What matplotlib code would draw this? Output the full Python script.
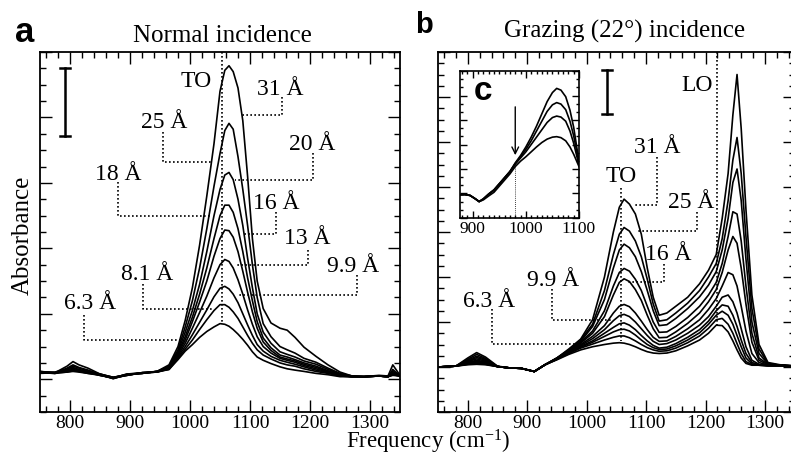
import matplotlib
matplotlib.use('Agg')
import matplotlib.pyplot as plt
from matplotlib.ticker import MultipleLocator

plt.rcParams['font.family'] = ['Liberation Serif', 'DejaVu Serif']
plt.rcParams['mathtext.fontset'] = 'custom'
plt.rcParams['mathtext.rm'] = 'Liberation Serif'
plt.rcParams['mathtext.it'] = 'Liberation Serif:italic'
plt.rcParams['mathtext.bf'] = 'Liberation Serif:bold'

# ---------------- data: panel a (normal incidence) ----------------
freq_a = [750, 775, 795, 805, 815, 830, 850, 872, 895, 920, 945, 965, 980, 992, 1004,
          1016, 1028, 1040, 1050, 1058, 1065, 1072, 1080, 1088, 1096, 1104, 1112, 1122,
          1135, 1150, 1162, 1175, 1190, 1210, 1230, 1250, 1270, 1290, 1315, 1330, 1338, 1350]
a_31 = [0.12, 0.10, 0.20, 0.27, 0.22, 0.17, 0.08, 0.02, 0.08, 0.10, 0.12, 0.22, 0.50, 0.90, 1.40,
        2.05, 2.80, 3.60, 4.40, 4.72, 4.79, 4.70, 4.45, 3.95, 3.10, 2.15, 1.50, 1.08,
        0.86, 0.78, 0.75, 0.64, 0.49, 0.35, 0.22, 0.11, 0.05, 0.04, 0.06, 0.05, 0.22, 0.06]
a_25 = [0.10, 0.09, 0.17, 0.22, 0.18, 0.14, 0.07, 0.01, 0.07, 0.09, 0.12, 0.20, 0.45, 0.80, 1.20,
        1.70, 2.30, 2.95, 3.45, 3.80, 3.91, 3.82, 3.40, 2.90, 2.35, 1.75, 1.25, 0.85,
        0.65, 0.50, 0.45, 0.40, 0.32, 0.26, 0.17, 0.09, 0.05, 0.04, 0.05, 0.04, 0.15, 0.05]
a_20 = [0.11, 0.10, 0.15, 0.20, 0.17, 0.13, 0.08, 0.03, 0.07, 0.10, 0.11, 0.19, 0.42, 0.72, 1.05,
        1.45, 1.95, 2.50, 2.90, 3.12, 3.16, 3.05, 2.75, 2.35, 1.85, 1.40, 1.00, 0.72,
        0.55, 0.42, 0.38, 0.34, 0.28, 0.23, 0.15, 0.08, 0.05, 0.04, 0.05, 0.04, 0.12, 0.05]
a_18 = [0.10, 0.11, 0.16, 0.18, 0.15, 0.12, 0.06, 0.02, 0.08, 0.09, 0.12, 0.18, 0.40, 0.65, 0.95,
        1.30, 1.70, 2.15, 2.50, 2.66, 2.66, 2.55, 2.30, 1.95, 1.55, 1.20, 0.88, 0.63,
        0.48, 0.37, 0.34, 0.30, 0.25, 0.20, 0.13, 0.07, 0.04, 0.04, 0.05, 0.04, 0.10, 0.05]
a_16 = [0.12, 0.09, 0.14, 0.17, 0.14, 0.11, 0.08, 0.03, 0.06, 0.10, 0.11, 0.17, 0.38, 0.60, 0.88,
        1.18, 1.50, 1.88, 2.15, 2.28, 2.27, 2.17, 1.95, 1.65, 1.33, 1.03, 0.78, 0.57,
        0.44, 0.34, 0.31, 0.28, 0.23, 0.18, 0.12, 0.06, 0.04, 0.04, 0.05, 0.04, 0.09, 0.05]
a_13 = [0.09, 0.10, 0.13, 0.15, 0.13, 0.10, 0.07, 0.01, 0.07, 0.09, 0.12, 0.16, 0.36, 0.55, 0.78,
        1.02, 1.27, 1.55, 1.75, 1.83, 1.80, 1.70, 1.52, 1.30, 1.06, 0.84, 0.65, 0.50,
        0.40, 0.32, 0.29, 0.26, 0.21, 0.16, 0.11, 0.06, 0.04, 0.04, 0.05, 0.04, 0.08, 0.05]
a_9_9 = [0.11, 0.10, 0.12, 0.14, 0.12, 0.10, 0.06, 0.02, 0.06, 0.10, 0.11, 0.16, 0.34, 0.50, 0.68,
         0.87, 1.06, 1.26, 1.39, 1.42, 1.38, 1.30, 1.17, 1.00, 0.83, 0.67, 0.53, 0.43,
         0.35, 0.29, 0.26, 0.23, 0.19, 0.14, 0.10, 0.05, 0.04, 0.04, 0.05, 0.04, 0.07, 0.05]
a_8_1 = [0.10, 0.09, 0.11, 0.13, 0.12, 0.09, 0.07, 0.03, 0.07, 0.09, 0.12, 0.15, 0.32, 0.46, 0.60,
         0.76, 0.91, 1.05, 1.14, 1.14, 1.10, 1.03, 0.93, 0.80, 0.67, 0.55, 0.45, 0.37,
         0.31, 0.25, 0.22, 0.20, 0.16, 0.12, 0.09, 0.05, 0.04, 0.04, 0.05, 0.04, 0.07, 0.05]
a_6_3 = [0.11, 0.10, 0.11, 0.12, 0.11, 0.09, 0.06, 0.02, 0.06, 0.10, 0.11, 0.15, 0.30, 0.43, 0.53,
         0.64, 0.73, 0.80, 0.85, 0.84, 0.81, 0.76, 0.69, 0.61, 0.52, 0.42, 0.34, 0.29,
         0.24, 0.19, 0.16, 0.14, 0.12, 0.09, 0.07, 0.04, 0.04, 0.04, 0.05, 0.04, 0.06, 0.05]
series_a = [a_31, a_25, a_20, a_18, a_16, a_13, a_9_9, a_8_1, a_6_3]

# ---------------- data: panel b (grazing incidence) ----------------
freq_b = [750, 780, 800, 815, 830, 850, 870, 890, 912, 930, 950, 970, 990, 1010, 1030, 1045,
          1055, 1063, 1072, 1082, 1092, 1102, 1112, 1122, 1135, 1150, 1170, 1190, 1205, 1218,
          1228, 1238, 1246, 1253, 1260, 1268, 1278, 1290, 1305, 1325, 1350]
b_1 = [1.00, 1.02, 1.20, 1.32, 1.22, 1.02, 0.98, 0.97, 0.90, 1.05, 1.20, 1.40, 1.62, 2.05, 3.00, 4.00,
       4.55, 4.73, 4.62, 4.40, 3.95, 3.20, 2.55, 2.15, 2.20, 2.35, 2.55, 2.85, 3.15, 3.50,
       4.30, 5.30, 6.60, 7.50, 6.30, 4.50, 2.60, 1.50, 1.10, 1.05, 1.03]
b_2 = [1.00, 1.02, 1.17, 1.28, 1.19, 1.01, 0.98, 0.97, 0.90, 1.05, 1.20, 1.38, 1.60, 1.95, 2.70, 3.50,
       3.95, 4.10, 4.02, 3.80, 3.45, 2.95, 2.40, 2.02, 2.05, 2.20, 2.42, 2.70, 3.00, 3.30,
       3.85, 4.70, 5.60, 6.10, 5.30, 3.90, 2.30, 1.40, 1.08, 1.04, 1.02]
b_3 = [1.00, 1.02, 1.15, 1.24, 1.17, 1.01, 0.98, 0.97, 0.90, 1.05, 1.20, 1.37, 1.57, 1.90, 2.50, 3.20,
       3.60, 3.73, 3.65, 3.45, 3.12, 2.70, 2.25, 1.92, 1.94, 2.08, 2.30, 2.56, 2.82, 3.12,
       3.60, 4.30, 5.10, 5.40, 4.70, 3.40, 2.00, 1.30, 1.07, 1.04, 1.02]
b_4 = [1.00, 1.02, 1.13, 1.21, 1.15, 1.01, 0.98, 0.97, 0.90, 1.05, 1.19, 1.36, 1.55, 1.80, 2.25, 2.80,
       3.10, 3.19, 3.13, 2.95, 2.70, 2.35, 2.00, 1.77, 1.78, 1.90, 2.10, 2.35, 2.60, 2.88,
       3.30, 3.90, 4.45, 4.40, 3.80, 2.80, 1.75, 1.20, 1.06, 1.04, 1.02]
b_5 = [1.00, 1.02, 1.12, 1.18, 1.13, 1.01, 0.98, 0.97, 0.90, 1.05, 1.19, 1.35, 1.53, 1.75, 2.12, 2.60,
       2.88, 2.96, 2.90, 2.72, 2.48, 2.15, 1.85, 1.65, 1.66, 1.78, 1.97, 2.20, 2.45, 2.72,
       3.10, 3.60, 3.90, 3.75, 3.20, 2.40, 1.55, 1.15, 1.05, 1.04, 1.02]
b_6 = [1.00, 1.02, 1.10, 1.15, 1.11, 1.01, 0.98, 0.97, 0.90, 1.05, 1.19, 1.34, 1.50, 1.68, 1.92, 2.20,
       2.35, 2.39, 2.34, 2.20, 2.02, 1.83, 1.66, 1.57, 1.58, 1.68, 1.85, 2.05, 2.28, 2.52,
       2.80, 3.10, 3.05, 2.80, 2.35, 1.80, 1.30, 1.10, 1.04, 1.03, 1.02]
b_7 = [1.00, 1.02, 1.09, 1.13, 1.09, 1.01, 0.98, 0.97, 0.90, 1.05, 1.18, 1.33, 1.48, 1.63, 1.83, 2.03,
       2.14, 2.17, 2.12, 2.00, 1.85, 1.70, 1.57, 1.50, 1.52, 1.60, 1.75, 1.93, 2.12, 2.35,
       2.55, 2.60, 2.45, 2.20, 1.85, 1.45, 1.15, 1.06, 1.03, 1.03, 1.02]
b_8 = [1.00, 1.02, 1.08, 1.11, 1.08, 1.01, 0.98, 0.97, 0.90, 1.05, 1.18, 1.32, 1.46, 1.58, 1.75, 1.88,
       1.96, 1.98, 1.93, 1.83, 1.70, 1.58, 1.48, 1.42, 1.44, 1.52, 1.66, 1.83, 2.02, 2.25,
       2.38, 2.35, 2.15, 1.90, 1.60, 1.30, 1.10, 1.05, 1.03, 1.03, 1.02]
b_9 = [1.00, 1.02, 1.07, 1.09, 1.07, 1.01, 0.98, 0.97, 0.90, 1.05, 1.17, 1.31, 1.44, 1.55, 1.68, 1.78,
       1.83, 1.84, 1.80, 1.71, 1.60, 1.50, 1.43, 1.39, 1.40, 1.47, 1.60, 1.76, 1.95, 2.15,
       2.24, 2.15, 1.95, 1.70, 1.45, 1.20, 1.07, 1.04, 1.03, 1.03, 1.02]
b_10 = [1.00, 1.02, 1.06, 1.08, 1.06, 1.01, 0.98, 0.97, 0.90, 1.05, 1.17, 1.30, 1.42, 1.51, 1.60, 1.66,
        1.69, 1.69, 1.65, 1.58, 1.50, 1.43, 1.38, 1.35, 1.36, 1.42, 1.54, 1.69, 1.86, 2.05,
        2.08, 1.95, 1.75, 1.52, 1.30, 1.12, 1.05, 1.04, 1.03, 1.03, 1.02]
b_11 = [1.00, 1.02, 1.05, 1.06, 1.05, 1.01, 0.98, 0.97, 0.90, 1.05, 1.16, 1.28, 1.38, 1.45, 1.50, 1.53,
        1.54, 1.53, 1.50, 1.45, 1.39, 1.34, 1.31, 1.30, 1.31, 1.36, 1.47, 1.60, 1.75, 1.93,
        1.92, 1.78, 1.58, 1.38, 1.20, 1.08, 1.04, 1.04, 1.03, 1.03, 1.02]
series_b = [b_1, b_2, b_3, b_4, b_5, b_6, b_7, b_8, b_9, b_10, b_11]

# ---------------- data: inset c ----------------
freq_c = [876, 885, 895, 905, 912, 920, 930, 940, 950, 960, 970, 980, 990, 1000, 1010, 1020,
          1030, 1040, 1050, 1058, 1066, 1075, 1083, 1090, 1095, 1100]
c_1 = [0.95, 0.96, 0.92, 0.78, 0.67, 0.78, 0.98, 1.15, 1.40, 1.65, 1.90, 2.25, 2.55, 2.90, 3.30, 3.75,
       4.25, 4.75, 5.12, 5.29, 5.22, 4.95, 4.40, 3.70, 3.00, 2.30]
c_2 = [0.95, 0.96, 0.92, 0.78, 0.67, 0.78, 0.98, 1.15, 1.40, 1.65, 1.90, 2.22, 2.50, 2.80, 3.15, 3.55,
       3.95, 4.35, 4.62, 4.71, 4.65, 4.42, 3.95, 3.35, 2.80, 2.20]
c_3 = [0.95, 0.96, 0.92, 0.78, 0.67, 0.78, 0.97, 1.13, 1.38, 1.63, 1.88, 2.20, 2.45, 2.70, 3.00, 3.30,
       3.60, 3.90, 4.10, 4.16, 4.12, 3.95, 3.55, 3.05, 2.60, 2.15]
c_4 = [0.95, 0.96, 0.92, 0.78, 0.67, 0.74, 0.90, 1.05, 1.30, 1.55, 1.80, 2.10, 2.32, 2.50, 2.70, 2.90,
       3.08, 3.22, 3.30, 3.32, 3.28, 3.15, 2.90, 2.60, 2.35, 2.10]
series_c = [c_1, c_2, c_3, c_4]

x_ticks_main = [800, 900, 1000, 1100, 1200, 1300]
x_ticks_inset = [900, 1000, 1100]

labels_a = ['31 Å', '25 Å', '20 Å', '18 Å', '16 Å', '13 Å', '9.9 Å', '8.1 Å', '6.3 Å']
labels_b = ['31 Å', '25 Å', '16 Å', '9.9 Å', '6.3 Å']

# ---------------- figure ----------------
W, H = 791, 454
fig = plt.figure(figsize=(W / 100, H / 100), dpi=100)


def ax_at(l, t, r, b):
    return fig.add_axes([l / W, 1 - b / H, (r - l) / W, (b - t) / H])


axA = ax_at(40, 52, 400, 412)
axB = ax_at(438, 52, 794.7, 412)
axC = ax_at(460, 71, 579, 218)


def style(ax, xt, xminor, ymaj, ymin, L, l, fs, lw_sp=1.3, pad=3):
    ax.set_xticks(xt)
    ax.xaxis.set_minor_locator(MultipleLocator(xminor))
    ax.yaxis.set_major_locator(MultipleLocator(ymaj))
    ax.yaxis.set_minor_locator(MultipleLocator(ymin))
    ax.tick_params(which='both', direction='in', top=True, right=True,
                   labelleft=False, width=1.0)
    ax.tick_params(which='major', length=L)
    ax.tick_params(which='minor', length=l)
    ax.tick_params(axis='x', labelsize=fs, pad=pad)
    for s in ax.spines.values():
        s.set_linewidth(lw_sp)


LW = 1.2
DOT = dict(color='black', lw=1.2, linestyle=(0, (1, 1.4)))

# panel a
for ys in series_a:
    axA.plot(freq_a, ys, color='black', lw=LW)
axA.set_xlim(750, 1350)
axA.set_ylim(-0.5, 5)
style(axA, x_ticks_main, 20, 1, 0.25, 8.5, 4, 14, pad=2.5)

axA.plot([1054, 1054], [5.0, 0.84], **DOT)
axA.text(1011, 4.47, 'TO', fontsize=17, ha='center', va='baseline')
text_a = [(1151, 4.34), (957, 3.84), (1203, 3.50), (880, 3.05), (1144, 2.60),
          (1196, 2.06), (1271, 1.64), (929, 1.51), (833, 1.07)]
lead_a = [[(1154, 4.32), (1154, 4.03), (1083, 4.03)],
          [(955, 3.78), (955, 3.32), (1036, 3.32)],
          [(1205, 3.45), (1205, 3.05), (1075, 3.05)],
          [(880, 3.02), (880, 2.50), (1033, 2.50)],
          [(1144, 2.55), (1144, 2.22), (1086, 2.22)],
          [(1197, 1.98), (1197, 1.74), (1078, 1.74)],
          [(1278, 1.60), (1278, 1.29), (1078, 1.29)],
          [(922, 1.45), (922, 1.08), (1039, 1.08)],
          [(823, 0.98), (823, 0.60), (989, 0.60)]]
for lab, (tx, ty), pts in zip(labels_a, text_a, lead_a):
    axA.text(tx, ty, lab, fontsize=17, ha='center', va='baseline')
    axA.plot([p[0] for p in pts], [p[1] for p in pts], **DOT)
# scale bar
axA.plot([792, 792], [3.72, 4.75], color='black', lw=1.8)
axA.plot([784, 800], [3.72, 3.72], color='black', lw=1.8)
axA.plot([784, 800], [4.75, 4.75], color='black', lw=1.8)

# panel b
for ys in series_b:
    axB.plot(freq_b, ys, color='black', lw=LW)
axB.set_xlim(750, 1350)
axB.set_ylim(0, 8)
style(axB, x_ticks_main, 20, 1, 0.25, 8.5, 4, 14, pad=2.5)

axB.plot([1057, 1057], [4.98, 1.58], **DOT)
axB.plot([1220, 1220], [8.0, 1.9], **DOT)
axB.text(1057.6, 5.10, 'TO', fontsize=17, ha='center', va='baseline')
axB.text(1185.5, 7.13, 'LO', fontsize=17, ha='center', va='baseline')
text_b = [(1119, 5.76), (1176, 4.54), (1137, 3.37), (943, 2.80), (836, 2.33)]
lead_b = [[(1117.6, 5.67), (1117.6, 4.60), (1078, 4.60)],
          [(1185, 4.45), (1185, 4.02), (1087, 4.02)],
          [(1130.5, 3.28), (1130.5, 2.90), (1070, 2.90)],
          [(941, 2.73), (941, 2.04), (1042, 2.04)],
          [(840, 2.29), (840, 1.52), (983, 1.52)]]
for lab, (tx, ty), pts in zip(labels_b, text_b, lead_b):
    axB.text(tx, ty, lab, fontsize=17, ha='center', va='baseline')
    axB.plot([p[0] for p in pts], [p[1] for p in pts], **DOT)
axB.plot([1034, 1034], [6.62, 7.60], color='black', lw=1.8)
axB.plot([1026, 1042], [6.62, 6.62], color='black', lw=1.8)
axB.plot([1026, 1042], [7.60, 7.60], color='black', lw=1.8)

# inset c
for ys in series_c:
    axC.plot(freq_c, ys, color='black', lw=LW)
axC.set_xlim(876, 1100)
axC.set_ylim(0, 6)
style(axC, x_ticks_inset, 10, 1, 1 / 3, 5, 2.5, 12.5, lw_sp=1.2, pad=2)
axC.plot([980, 980], [2.2, 0], color='black', lw=0.6, linestyle=(0, (1, 1.5)))
axC.annotate('', xy=(980, 2.45), xytext=(980, 4.65),
             arrowprops=dict(arrowstyle='->', lw=1.0, color='black', mutation_scale=12))
axC.text(0.19, 0.80, 'c', transform=axC.transAxes, fontsize=24, fontweight='bold',
         family=['Liberation Sans', 'DejaVu Sans'], ha='center', va='baseline')

# titles, panel letters, axis labels
fig.text(222 / W, 1 - 41.7 / H, 'Normal incidence', fontsize=18, ha='center', va='baseline')
fig.text(625 / W, 1 - 37.3 / H, 'Grazing (22°) incidence', fontsize=18, ha='center', va='baseline')
fig.text(25 / W, 1 - 42 / H, 'a', fontsize=25, fontweight='bold',
         family=['Liberation Sans', 'DejaVu Sans'], ha='center', va='baseline')
fig.text(423.5 / W, 1 - 33 / H, 'b', fontsize=21, fontweight='bold',
         family=['Liberation Sans', 'DejaVu Sans'], ha='center', va='baseline')
fig.text(428 / W, 1 - 448 / H, 'Frequency (cm$^{-1}$)', fontsize=16.5, ha='center', va='baseline')
fig.text(23 / W, 1 - 235 / H, 'Absorbance', fontsize=18, rotation=90, ha='center', va='center')

fig.savefig('out.png', dpi=100)
